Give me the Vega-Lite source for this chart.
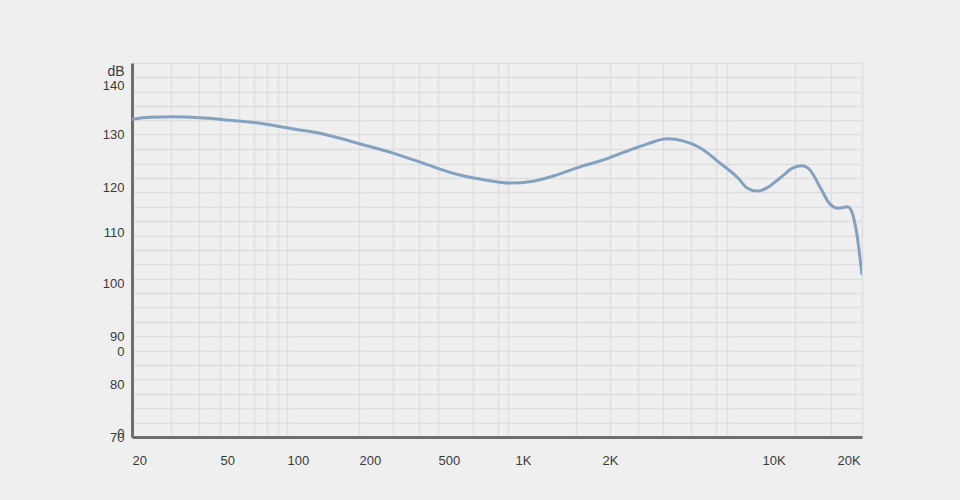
{
  "$schema": "https://vega.github.io/schema/vega-lite/v6.json",
  "description": "Frequency response curve (dB vs Hz)",
  "autosize": "none",
  "padding": {"left": 132, "top": 63, "right": 98, "bottom": 63},
  "width": 730,
  "height": 374,
  "background": "#efefef",
  "config": {
    "view": {"stroke": null, "fill": "#efefef"},
    "font": "Liberation Sans",
    "axis": {
      "labelFont": "Liberation Sans",
      "labelFontSize": 13,
      "labelColor": "#3a3a3a",
      "ticks": false,
      "domainColor": "#6e6e6e",
      "domainWidth": 3,
      "gridColor": "#dfdfdf",
      "gridWidth": 1.5,
      "labelOverlap": false,
      "labelFlush": false
    }
  },
  "data": {
    "values": [
      {"freq": 20, "db": 133.0},
      {"freq": 24.1, "db": 133.4},
      {"freq": 30.6, "db": 133.5},
      {"freq": 40.6, "db": 133.3},
      {"freq": 55.5, "db": 132.8},
      {"freq": 78, "db": 132.1},
      {"freq": 110, "db": 130.9},
      {"freq": 128.4, "db": 130.4},
      {"freq": 166.5, "db": 129.2},
      {"freq": 196, "db": 128.3},
      {"freq": 297, "db": 126.4},
      {"freq": 420, "db": 124.5},
      {"freq": 572, "db": 122.6},
      {"freq": 730, "db": 121.5},
      {"freq": 956, "db": 120.75},
      {"freq": 1154, "db": 121.1},
      {"freq": 1397, "db": 122.3},
      {"freq": 1679, "db": 123.8},
      {"freq": 1968, "db": 124.9},
      {"freq": 2733, "db": 127.2},
      {"freq": 3145, "db": 128.1},
      {"freq": 3846, "db": 129.1},
      {"freq": 4518, "db": 128.7},
      {"freq": 5361, "db": 127.4},
      {"freq": 6556, "db": 124.5},
      {"freq": 7858, "db": 121.7},
      {"freq": 8600, "db": 119.8},
      {"freq": 9510, "db": 119.1},
      {"freq": 10473, "db": 119.8},
      {"freq": 11810, "db": 121.7},
      {"freq": 13320, "db": 123.6},
      {"freq": 14470, "db": 124.0},
      {"freq": 15580, "db": 123.2},
      {"freq": 17090, "db": 120.0},
      {"freq": 18750, "db": 116.2},
      {"freq": 20190, "db": 115.3},
      {"freq": 22070, "db": 115.6},
      {"freq": 22970, "db": 114.4},
      {"freq": 24060, "db": 109.4},
      {"freq": 25200, "db": 101.6}
    ]
  },
  "mark": {
    "type": "line",
    "color": "#84a2c0",
    "strokeWidth": 3,
    "interpolate": "monotone",
    "clip": true
  },
  "encoding": {
    "x": {
      "field": "freq",
      "type": "quantitative",
      "scale": {
        "type": "log",
        "nice": false,
        "domain": [20, 50, 100, 200, 500, 1000, 2000, 10000, 20000, 25200],
        "range": [0, 88, 155, 227, 306, 383, 470, 630, 705, 730]
      },
      "axis": {
        "title": null,
        "values": [20, 30, 40, 50, 61, 71, 81, 91, 100, 200, 297, 401, 500, 685, 858, 939, 1000, 1626, 2000, 2168, 2874, 3694, 4896, 6296, 7034, 10000, 13560, 18920, 20000, 25200],
        "labelExpr": "datum.value == 20 ? '20' : datum.value == 50 ? '50' : datum.value == 100 ? '100' : datum.value == 200 ? '200' : datum.value == 500 ? '500' : datum.value == 1000 ? '1K' : datum.value == 2000 ? '2K' : datum.value == 10000 ? '10K' : datum.value == 20000 ? '20K' : ''",
        "labelAlign": "left",
        "labelPadding": 17,
        "gridOpacity": {
          "condition": {"test": "indexof([20, 1000, 2000, 10000, 20000], datum.value) >= 0", "value": 0},
          "value": 1
        }
      }
    },
    "y": {
      "field": "db",
      "type": "quantitative",
      "scale": {
        "nice": false,
        "zero": false,
        "domain": [70, 80, 90, 100, 110, 120, 130, 140, 144.5],
        "range": [374, 321, 273, 220, 169, 124, 71, 22, 0]
      },
      "axis": {
        "title": "dB",
        "titleAngle": 0,
        "titleAlign": "right",
        "titleBaseline": "middle",
        "titleX": -8,
        "titleY": 8,
        "titleFont": "Liberation Sans",
        "titleFontSize": 14,
        "titleFontWeight": "normal",
        "titleColor": "#3a3a3a",
        "values": [70, 70.75, 72.72, 75.43, 78.15, 80, 80.94, 83.94, 86.67, 86.94, 90, 92.66, 95.38, 98.08, 100, 100.82, 103.65, 106.47, 109.29, 110, 112.4, 115.6, 118.78, 120, 121.68, 124.4, 127.11, 130, 132.76, 135.69, 138.61, 140, 141.55, 144.5],
        "labelExpr": "indexof([70, 80, 90, 100, 110, 120, 130, 140], datum.value) >= 0 ? datum.label : (indexof([70.75, 86.67], datum.value) >= 0 ? '0' : '')",
        "labelPadding": 8,
        "labelBaseline": "middle",
        "gridOpacity": {
          "condition": {"test": "indexof([70.75, 80, 86.67, 100, 110, 120, 140], datum.value) >= 0", "value": 0},
          "value": 1
        }
      }
    }
  }
}
